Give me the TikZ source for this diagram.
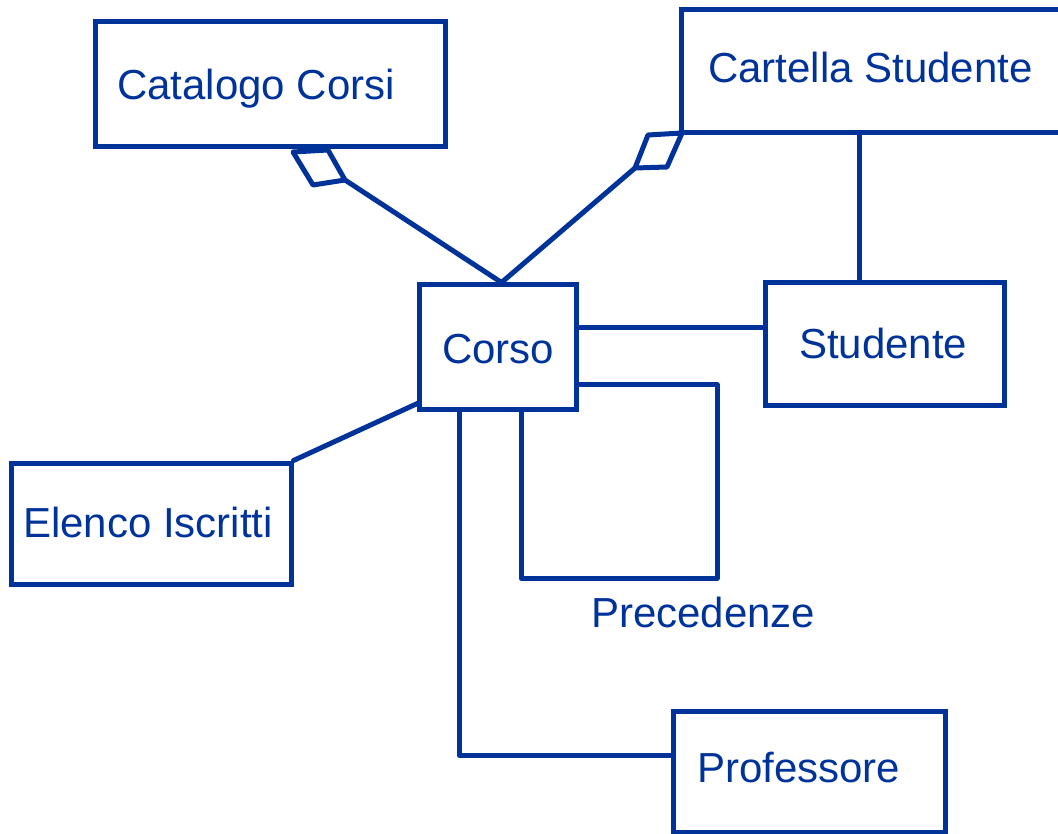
\documentclass[tikz,border=0pt]{standalone}
\usepackage{fontspec}
\setmainfont{Liberation Sans}
\definecolor{umlblue}{RGB}{0,51,153}
\begin{document}
\begin{tikzpicture}[x=1pt,y=-1pt,
  cls/.style={draw=umlblue,line width=5pt,rectangle,inner sep=0pt},
  lbl/.style={text=umlblue,anchor=base west,inner sep=0pt,font=\fontsize{42}{50}\selectfont},
  link/.style={draw=umlblue,line width=5pt,line cap=round,line join=round},
  agg/.style={draw=umlblue,fill=white,line width=5pt,line join=round}]
\clip (0,0) rectangle (1058,834);
\fill[white] (0,0) rectangle (1058,834);

% classes
\node[cls,minimum width=350pt,minimum height=125pt] (cat) at (270,84.5) {};
\node[cls,minimum width=419pt,minimum height=123.5pt] (cart) at (890.5,71.25) {};
\node[cls,minimum width=157pt,minimum height=124pt] (corso) at (497.5,347) {};
\node[cls,minimum width=239pt,minimum height=122pt] (stud) at (884.5,344) {};
\node[cls,minimum width=280pt,minimum height=121pt] (elen) at (151,523.5) {};
\node[cls,minimum width=272pt,minimum height=121pt] (prof) at (809,771.5) {};

% class names
\node[lbl] (catT) at (117,100) {Catalogo Corsi};
\node[lbl] (cartT) at (708,83) {Cartella Studente};
\node[lbl] (corsoT) at (442,363) {Corso};
\node[lbl] (studT) at (799,359) {Studente};
\node[lbl] (elenT) at (23,537) {Elenco Iscritti};
\node[lbl] (profT) at (697,782) {Professore};
\node[lbl] (precT) at (591,627) {Precedenze};

% aggregation diamonds
\draw[agg] (293,152) -- (328,150) -- (345,180) coordinate (catD) -- (313,185) -- cycle;
\draw[agg] (648,135) -- (682,133) -- (667,167) -- (635,168) coordinate (cartD) -- cycle;

% associations
\coordinate (corsoTop) at ([xshift=4pt]corso.north);
\draw[link] (catD) -- (corsoTop);
\draw[link] (cartD) -- (corsoTop);
\draw[link] (cart.south -| 859,0) -- (stud.north -| 859,0);
\draw[link] (corso.east |- 0,328) -- (stud.west |- 0,328);
\draw[link] ([shift={(3,-9)}]corso.south west) -- (elen.north east);
\draw[link] (corso.east |- 0,385) -| (717,578) -| (corso.south -| 521,0);
\draw[link] (corso.south -| 459,0) |- (prof.west |- 0,755);
\end{tikzpicture}
\end{document}
